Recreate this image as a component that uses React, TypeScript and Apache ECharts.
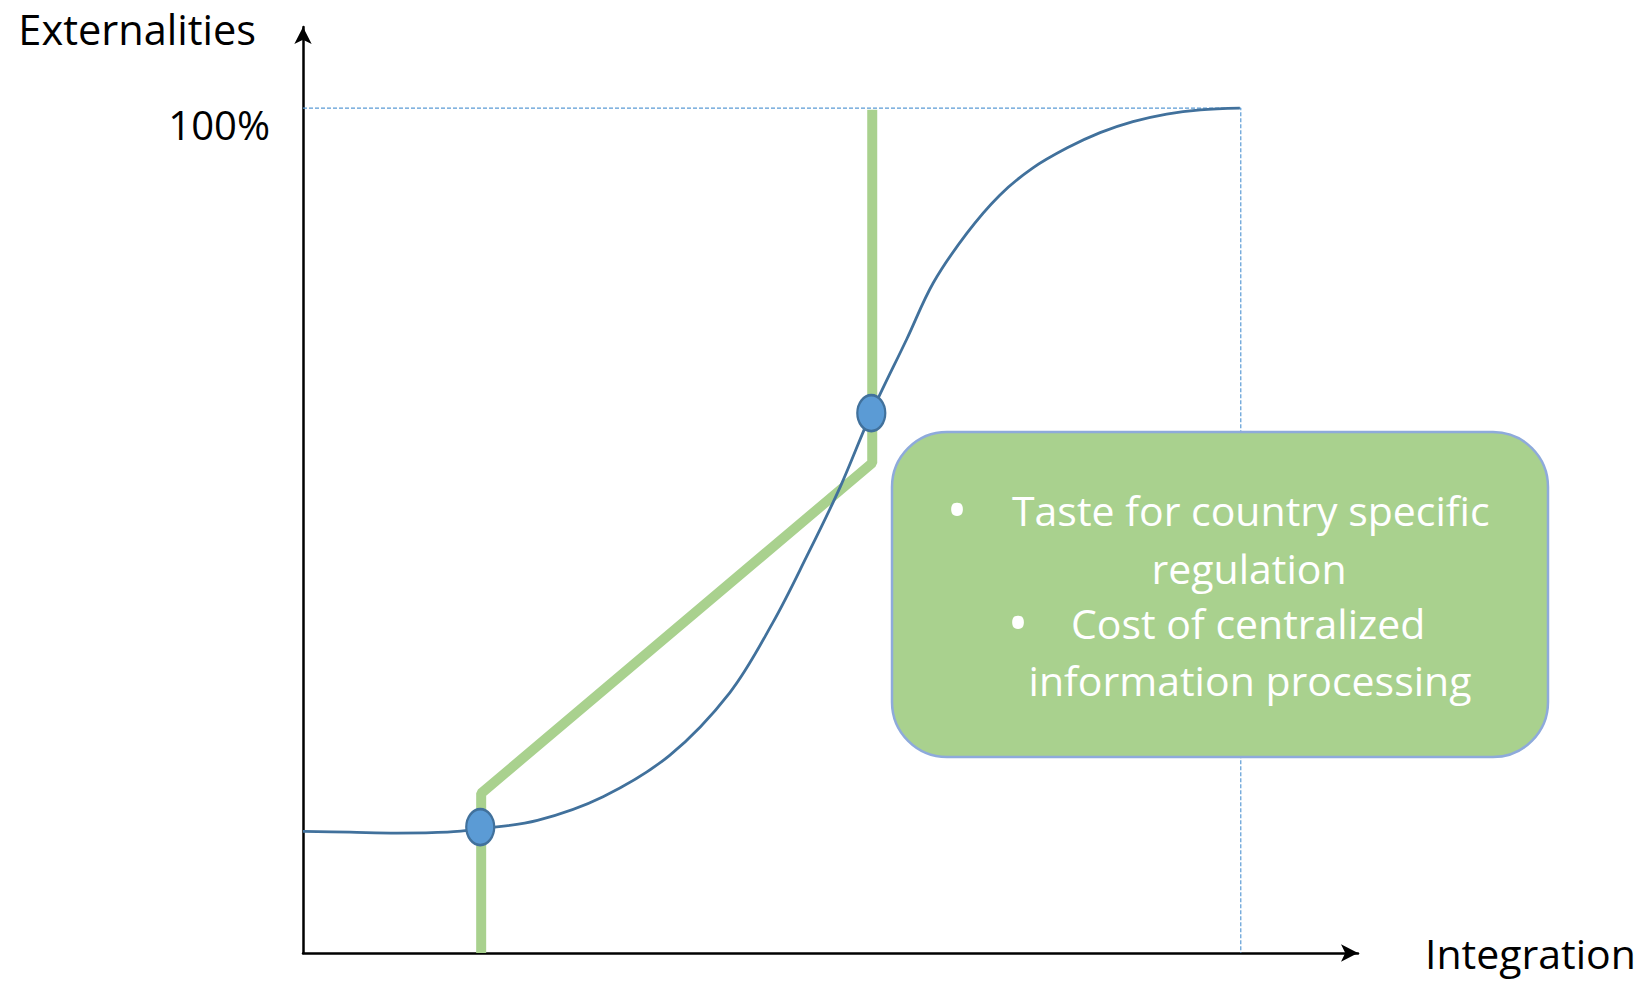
import React, { useEffect, useRef } from "react";
import * as echarts from "echarts";

// Blue S-curve (externalities vs integration)
const curveX = [0, 5, 10, 15.4, 18.9, 25.0, 32.0, 39.1, 45.5, 50.1, 53.7, 57.3, 60.6, 64.4, 67.2, 70.8, 74.3, 77.8, 81.5, 85.0, 88.5, 92.1, 95.7, 99.9];
const curveY = [14.4, 14.3, 14.2, 14.3, 14.7, 15.7, 18.5, 23.4, 30.8, 39.1, 46.9, 55.2, 63.9, 72.7, 79.3, 85.2, 89.7, 92.9, 95.3, 97.1, 98.4, 99.3, 99.8, 100];

// Green step/diagonal line
const greenX = [19.0, 19.0, 60.7, 60.7];
const greenY = [0, 18.9, 58.0, 99.8];

// Pivot points (ellipses)
const pointX = [18.9, 60.6];
const pointY = [14.9, 63.9];

// Dashed 100% reference lines
const refX = [0, 100, 100];
const refY = [100, 100, 0];

const yTickLabels: Record<number, string> = { 100: "100%" };

const boxLines = [
  "Taste for country specific",
  "regulation",
  "Cost of centralized",
  "information processing",
];

const FONT = "'Open Sans', 'Liberation Sans', sans-serif";
const ELLIPSE =
  "path://M1,0 C1.552,0 2,0.448 2,1 C2,1.552 1.552,2 1,2 C0.448,2 0,1.552 0,1 C0,0.448 0.448,0 1,0 Z";

const zip = (xs: number[], ys: number[]) => xs.map((x, i) => [x, ys[i]]);

export default function App() {
  const ref = useRef<HTMLDivElement>(null);

  useEffect(() => {
    const chart = echarts.init(ref.current!, null, { renderer: "svg" });
    const textBase = { fill: "#ffffff", fontSize: 41, fontFamily: FONT, verticalAlign: "middle" };
    const option: any = {
      animation: false,
      backgroundColor: "#ffffff",
      grid: { left: 303, top: 27, right: 290, bottom: 37, containLabel: false },
      xAxis: {
        type: "value",
        min: 0,
        max: 112.5,
        name: "Integration",
        nameLocation: "end",
        nameGap: 67,
        nameTextStyle: {
          fontSize: 41,
          fontFamily: FONT,
          color: "#000",
          align: "left",
          verticalAlign: "middle",
          padding: [32, 0, 0, 0],
        },
        axisLine: {
          show: true,
          symbol: ["none", "arrow"],
          symbolSize: [13, 17],
          lineStyle: { color: "#000", width: 2.5 },
        },
        axisTick: { show: false },
        axisLabel: { show: false },
        splitLine: { show: false },
      },
      yAxis: {
        type: "value",
        min: 0,
        max: 109.6,
        interval: 100,
        name: "Externalities",
        nameLocation: "end",
        nameGap: -2,
        nameTextStyle: {
          fontSize: 41.5,
          lineHeight: 44,
          fontFamily: FONT,
          color: "#000",
          align: "right",
          verticalAlign: "middle",
          padding: [0, 47, 0, 0],
        },
        axisLine: {
          show: true,
          symbol: ["none", "arrow"],
          symbolSize: [13, 17],
          lineStyle: { color: "#000", width: 2.5 },
        },
        axisTick: { show: false },
        axisLabel: {
          show: true,
          margin: 33,
          fontSize: 40,
          fontFamily: FONT,
          color: "#000",
          verticalAlign: "top",
          lineHeight: 32,
          showMaxLabel: false,
          formatter: (v: number) => yTickLabels[v] ?? "",
        },
        splitLine: { show: false },
      },
      series: [
        {
          type: "line",
          name: "ref",
          data: zip(refX, refY),
          symbol: "none",
          z: 1,
          lineStyle: { color: "#5b9bd5", width: 1.2, type: [4, 2] },
        },
        {
          type: "line",
          name: "green",
          data: zip(greenX, greenY),
          symbol: "none",
          z: 2,
          lineStyle: { color: "#a9d18e", width: 10, cap: "butt", join: "bevel" },
        },
        {
          type: "line",
          name: "curve",
          data: zip(curveX, curveY),
          symbol: "none",
          smooth: 0.35,
          z: 3,
          lineStyle: { color: "#41719c", width: 2.8 },
        },
        {
          type: "scatter",
          name: "points",
          data: zip(pointX, pointY),
          symbol: ELLIPSE,
          symbolSize: [28, 36],
          z: 4,
          itemStyle: { color: "#5b9bd5", borderColor: "#41719c", borderWidth: 2.5, opacity: 1 },
        },
      ],
      graphic: [
        {
          type: "rect",
          z: 100,
          shape: { x: 892, y: 432, width: 656, height: 325, r: 55 },
          style: { fill: "#a9d18e", stroke: "#8eaadb", lineWidth: 2.5 },
        },
        { type: "text", z: 101, x: 957, y: 508, style: { ...textBase, text: "•", fontSize: 56, align: "center" } },
        { type: "text", z: 101, x: 1012, y: 510, style: { ...textBase, text: boxLines[0], align: "left" } },
        { type: "text", z: 101, x: 1249, y: 568, style: { ...textBase, text: boxLines[1], align: "center" } },
        { type: "text", z: 101, x: 1018, y: 621, style: { ...textBase, text: "•", fontSize: 56, align: "center" } },
        { type: "text", z: 101, x: 1071, y: 623, style: { ...textBase, text: boxLines[2], align: "left" } },
        { type: "text", z: 101, x: 1250, y: 680, style: { ...textBase, text: boxLines[3], align: "center" } },
      ],
    };
    chart.setOption(option);
    return () => chart.dispose();
  }, []);

  return (
    <div
      ref={ref}
      style={{ position: "absolute", left: 0, top: 0, width: 1648, height: 990 }}
    />
  );
}
